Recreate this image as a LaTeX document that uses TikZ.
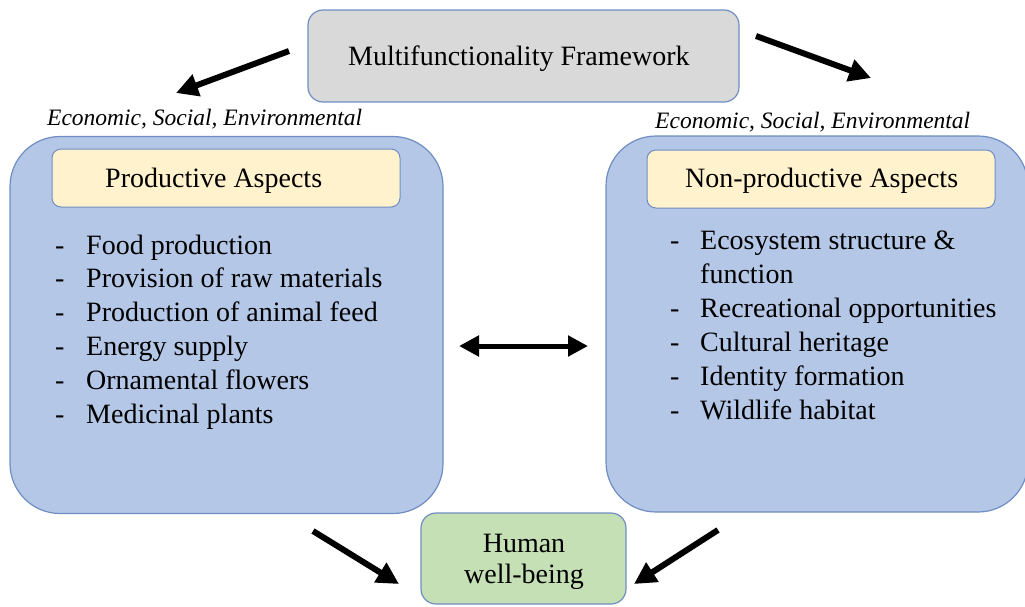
\documentclass[tikz,border=0pt]{standalone}
\usepackage{fontspec}
\setmainfont{Liberation Serif}
\usetikzlibrary{arrows.meta}

\definecolor{edgeBlue}{HTML}{6F8DC2}
\definecolor{frameGray}{HTML}{D9D9D9}
\definecolor{aspectBlue}{HTML}{B4C7E7}
\definecolor{headYellow}{HTML}{FFF2CC}
\definecolor{wellGreen}{HTML}{C5E0B4}

\tikzset{
  panel/.style={draw=edgeBlue, line width=1.2pt, fill=aspectBlue,
    rounded corners=50pt, inner sep=0pt},
  headbox/.style={draw=edgeBlue, line width=1pt, fill=headYellow,
    rounded corners=9pt, inner sep=0pt},
  smallbox/.style={draw=edgeBlue, line width=1.2pt, rounded corners=15pt, inner sep=0pt},
  bodytext/.style={inner sep=0pt, anchor=base west,
    font=\fontsize{28}{34}\selectfont},
  dimtext/.style={inner sep=0pt, anchor=base west,
    font=\fontsize{23.5}{28}\selectfont\itshape},
  flowarrow/.style={line width=6pt, -{Triangle[length=22pt,width=22pt]}},
  linkarrow/.style={line width=5pt,
    {Triangle[length=20pt,width=20pt]}-{Triangle[length=20pt,width=20pt]}},
}

\begin{document}
\begin{tikzpicture}[x=1pt,y=-1pt]
\useasboundingbox (0,0) rectangle (1025,606);
\clip (0,0) rectangle (1025,606);

% framework box
\node[smallbox, fill=frameGray, minimum width=431pt, minimum height=92pt]
  (frame) at (523.5,56) {};
\node[bodytext] (frameText) at (348,65) {Multifunctionality Framework};

% dimension labels
\node[dimtext] (dimLeft) at (47,125) {Economic, Social, Environmental};
\node[dimtext] (dimRight) at (655,128) {Economic, Social, Environmental};

% productive panel
\node[panel, minimum width=433pt, minimum height=377pt] (prod) at (226.5,325) {};
\node[headbox, minimum width=348pt, minimum height=58pt] (prodHead) at (226,178) {};
\node[bodytext] (prodTitle) at (105,187) {Productive Aspects};
\foreach \t [count=\i from 0] in {Food production, Provision of raw materials,
    Production of animal feed, Energy supply, Ornamental flowers, Medicinal plants}{
  \node[bodytext] (prodDash\i) at (55,254+33.8*\i) {-};
  \node[bodytext] (prodItem\i) at (86,254+33.8*\i) {\t};
}

% non-productive panel
\node[panel, minimum width=422pt, minimum height=376pt] (nonprod) at (817,324) {};
\node[headbox, minimum width=348pt, minimum height=58pt] (nonprodHead) at (821,179) {};
\node[bodytext] (nonprodTitle) at (685,187) {Non-productive Aspects};
\node[bodytext] (npDash0) at (670,249.5) {-};
\node[bodytext] (npItem0) at (700,249.5) {Ecosystem structure \&};
\node[bodytext] (npItem0b) at (700,283.5) {function};
\foreach \t [count=\i from 1] in {Recreational opportunities, Cultural heritage,
    Identity formation, Wildlife habitat}{
  \node[bodytext] (npDash\i) at (670,283.5+34*\i) {-};
  \node[bodytext] (npItem\i) at (700,283.5+34*\i) {\t};
}

% human well-being box
\node[smallbox, fill=wellGreen, minimum width=205pt, minimum height=91pt]
  (well) at (523.5,558.5) {};
\node[inner sep=0pt, anchor=base, font=\fontsize{28}{33}\selectfont] (wellA) at (524,552) {Human};
\node[inner sep=0pt, anchor=base, font=\fontsize{28}{33}\selectfont] (wellB) at (524,583) {well-being};

% arrow end points
\coordinate (aLs) at (289,51);
\coordinate (aLe) at (176,93);
\coordinate (aRs) at (756,36);
\coordinate (aRe) at (871,78);
\coordinate (bLs) at (313,531);
\coordinate (bLe) at (399,584);
\coordinate (bRs) at (718,530);
\coordinate (bRe) at (634,584);
\coordinate (mL) at (459,346);
\coordinate (mR) at (588,346);

\draw[flowarrow] (aLs) -- (aLe);
\draw[flowarrow] (aRs) -- (aRe);
\draw[flowarrow] (bLs) -- (bLe);
\draw[flowarrow] (bRs) -- (bRe);
\draw[linkarrow] (mL) -- (mR);
\end{tikzpicture}
\end{document}
